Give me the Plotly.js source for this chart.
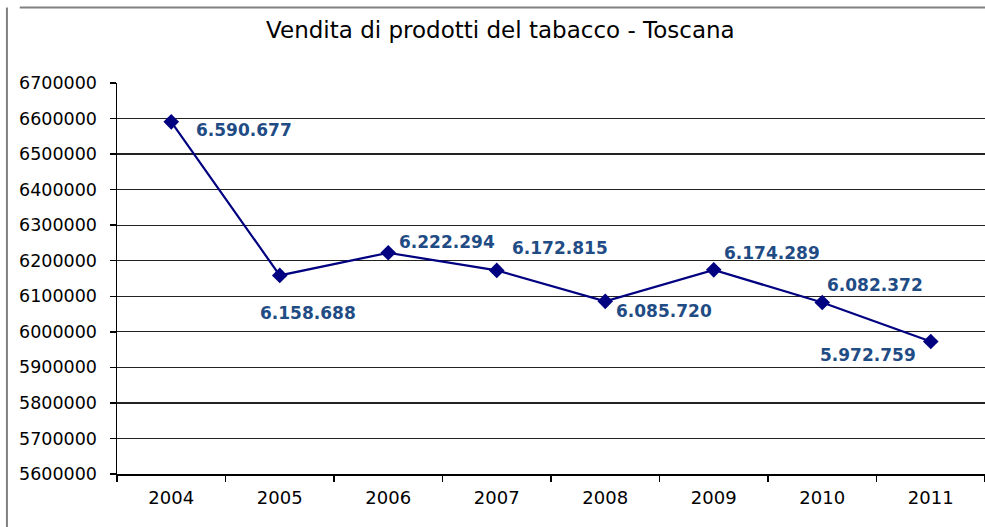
<!DOCTYPE html>
<html>
<head>
<meta charset="utf-8">
<script src="https://cdn.plot.ly/plotly-3.0.1.min.js"></script>
<style>
html,body{margin:0;padding:0;background:#fff;}
#chart{width:985px;height:527px;}
</style>
</head>
<body>
<div id="chart"></div>
<script>
var years = ['2004','2005','2006','2007','2008','2009','2010','2011'];
var sales = [6590677, 6158688, 6222294, 6172815, 6085720, 6174289, 6082372, 5972759];
var yTicks = [5600000,5700000,5800000,5900000,6000000,6100000,6200000,6300000,6400000,6500000,6600000,6700000];
var chartTitle = 'Vendita di prodotti del tabacco - Toscana';

// label offsets (pixels) relative to each point
var labelDX = [73, 28, 59, 63, 59, 58, 53, -63];
var labelDY = [-8, -38, 11, 22, -10, 17, 18, -13];

function fmt(v){ return String(v).replace(/\B(?=(\d{3})+(?!\d))/g, '.'); }

var annotations = years.map(function(yr, i){
  return {
    x: i, y: sales[i], xref: 'x', yref: 'y',
    text: '<b>' + fmt(sales[i]) + '</b>', showarrow: false,
    xshift: labelDX[i], yshift: labelDY[i],
    font: {family: 'DejaVu Sans, Verdana, sans-serif', size: 17, color: '#1F4C85'}
  };
});

var trace = {
  x: years, y: sales, type: 'scatter', mode: 'lines+markers',
  line: {color: '#000080', width: 2.2},
  marker: {symbol: 'diamond', size: 12, color: '#000080'},
  hoverinfo: 'x+y'
};

var layout = {
  width: 985, height: 527,
  margin: {l: 117, r: 0, t: 83, b: 53},
  paper_bgcolor: '#ffffff', plot_bgcolor: '#ffffff',
  showlegend: false,
  title: {text: chartTitle, x: 0.508, xanchor: 'center', y: 0.943, yanchor: 'middle',
          font: {family: 'DejaVu Sans, Verdana, sans-serif', size: 23, color: '#000000'}},
  xaxis: {
    type: 'category', range: [-0.5, 7.5],
    showline: true, linecolor: '#000000', linewidth: 1.5,
    ticks: 'outside', ticklen: 6, tickcolor: '#000000', tickwidth: 1.5,
    tickson: 'boundaries', showgrid: false, zeroline: false,
    tickfont: {family: 'DejaVu Sans, Verdana, sans-serif', size: 18, color: '#000000'},
    ticklabelstandoff: 7
  },
  yaxis: {
    range: [5600000, 6700000], tickvals: yTicks, ticktext: yTicks.map(String),
    showline: true, linecolor: '#000000', linewidth: 1.5,
    ticks: 'outside', ticklen: 6, tickcolor: '#000000', tickwidth: 1.5,
    showgrid: true, gridcolor: '#222222', gridwidth: 1.3, zeroline: false,
    tickfont: {family: 'DejaVu Sans, Verdana, sans-serif', size: 17.5, color: '#000000'},
    ticklabelstandoff: 9
  },
  annotations: annotations,
  shapes: [
    {type: 'line', xref: 'paper', yref: 'paper', x0: -0.112, x1: 1.01, y0: 1.193, y1: 1.193,
     line: {color: '#808080', width: 2}},
    {type: 'line', xref: 'paper', yref: 'paper', x0: -0.1268, x1: -0.1268, y0: 1.193, y1: -0.2,
     line: {color: '#808080', width: 2}}
  ]
};

Plotly.newPlot('chart', [trace], layout, {displayModeBar: false, staticPlot: true});
</script>
</body>
</html>
